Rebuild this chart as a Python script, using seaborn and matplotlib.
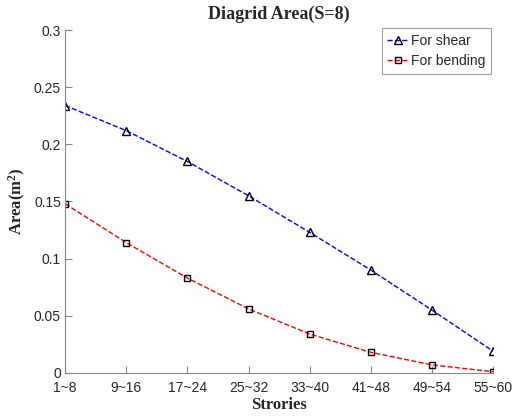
import matplotlib
matplotlib.use("Agg")
import matplotlib.pyplot as plt
import seaborn as sns
import numpy as np
import pandas as pd

categories = ["1~8", "9~16", "17~24", "25~32", "33~40", "41~48", "49~54", "55~60"]
shear = [0.234, 0.212, 0.185, 0.155, 0.123, 0.090, 0.055, 0.019]
bending = [0.148, 0.114, 0.083, 0.056, 0.034, 0.018, 0.007, 0.001]
yticks = [0, 0.05, 0.1, 0.15, 0.2, 0.25, 0.3]
ytick_labels = ["0", "0.05", "0.1", "0.15", "0.2", "0.25", "0.3"]

sns.set_style("white")
plt.rcParams['font.family'] = ['Liberation Sans', 'DejaVu Sans']
plt.rcParams['mathtext.fontset'] = 'custom'
plt.rcParams['mathtext.rm'] = 'Liberation Serif:bold'
plt.rcParams['mathtext.it'] = 'Liberation Serif:bold:italic'
plt.rcParams['mathtext.bf'] = 'Liberation Serif:bold'

fig = plt.figure(figsize=(5.13, 4.18), dpi=100)
ax = fig.add_axes([0.127, 0.108, 0.834, 0.820])

pos = np.arange(len(categories))
df = pd.DataFrame({"pos": pos, "shear": shear, "bending": bending})

sns.lineplot(data=df, x="pos", y="shear", ax=ax, color="blue", linestyle="--",
             linewidth=1.0, marker="^", markersize=6, markerfacecolor="none",
             markeredgecolor="black", markeredgewidth=1.0, label="For shear")
sns.lineplot(data=df, x="pos", y="bending", ax=ax, color="red", linestyle="--",
             linewidth=1.0, marker="s", markersize=5, markerfacecolor="none",
             markeredgecolor="black", markeredgewidth=1.0, label="For bending")

ax.set_xlim(0, len(categories) - 1)
ax.set_ylim(0, 0.3)
ax.set_xticks(pos)
ax.set_xticklabels(categories)
ax.set_yticks(yticks)
ax.set_yticklabels(ytick_labels)
ax.tick_params(direction="in", length=5, width=0.8, color="#888888", labelsize=10,
               left=True, bottom=True, pad=3)
ax.tick_params(axis="x", pad=6)
for s in ["top", "right"]:
    ax.spines[s].set_visible(False)
for s in ["left", "bottom"]:
    ax.spines[s].set_color("#888888")
    ax.spines[s].set_linewidth(0.8)

ax.set_title("Diagrid Area(S=8)", fontfamily="Liberation Serif", fontweight="bold",
             fontsize=13, pad=8)
ax.set_xlabel("Strories", fontfamily="Liberation Serif", fontweight="bold", fontsize=12,
              labelpad=1)
ax.set_ylabel("Area(m$^2$)", fontfamily="Liberation Serif", fontweight="bold", fontsize=12)

leg = ax.legend(loc="upper right", fontsize=10, frameon=True, fancybox=False,
                handlelength=1.5, handletextpad=0.2, borderpad=0.4, labelspacing=0.45,
                edgecolor="#888888", bbox_to_anchor=(0.995, 1.005), borderaxespad=0.0)
leg.get_frame().set_linewidth(0.8)

fig.savefig("out.png", dpi=100)
